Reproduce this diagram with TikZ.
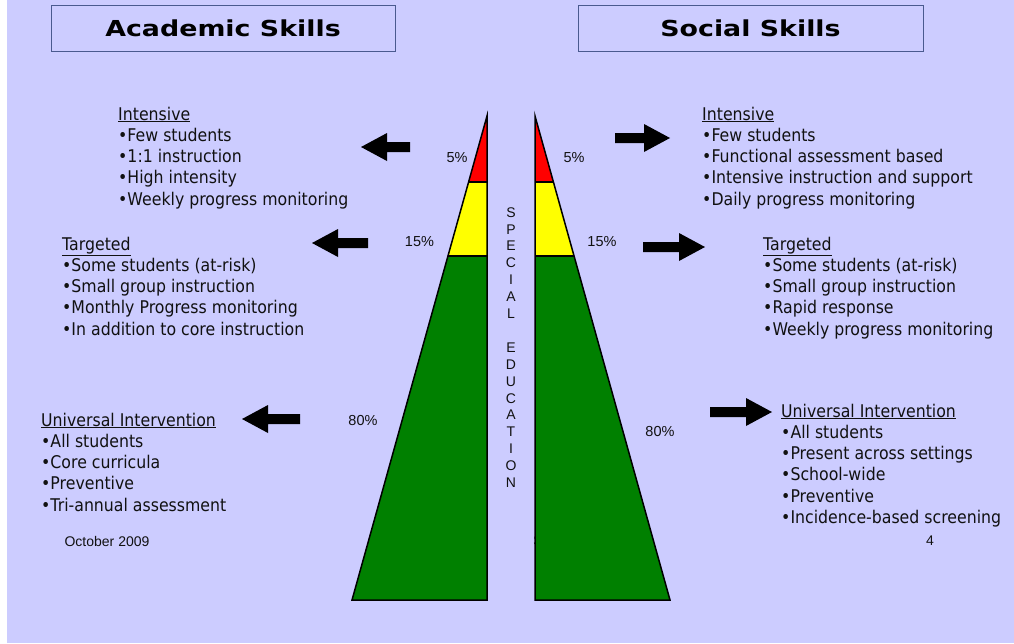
\documentclass[tikz,border=0pt]{standalone}
\usepackage{fontspec}
\newfontfamily\tah{DejaVu Sans}[FakeStretch=0.9]
\newfontfamily\tahtitle{DejaVu Sans}[FakeStretch=1.22]
\newfontfamily\ari{Liberation Sans}
\definecolor{bg}{HTML}{CCCCFF}
\definecolor{boxline}{HTML}{4A5A8F}
\definecolor{pred}{HTML}{FF0000}
\definecolor{pyel}{HTML}{FFFF00}
\definecolor{pgrn}{HTML}{008000}
\definecolor{txt}{HTML}{111111}
\tikzset{
  x=1pt,y=-1pt,
  titlebox/.style={draw=boxline,line width=0.9pt,fill=bg,inner sep=0pt,font=\tahtitle\bfseries\fontsize{22}{26}\selectfont,text=black},
  body/.style={font=\tah\fontsize{17.5}{21.3}\selectfont,align=left,inner sep=0pt,anchor=north west,text=txt},
  pct/.style={font=\ari\fontsize{14.5}{17}\selectfont,inner sep=0pt,text=txt},
  foot/.style={font=\ari\fontsize{14}{17}\selectfont,inner sep=0pt,text=txt},
  band/.style={draw=black,line width=1.5pt,line join=miter},
  blockarrow/.style={fill=black}
}
\newcommand\larrow[4]{% tip x, tip y, length, name
  \fill[blockarrow] (#1,#2) coordinate (#4) -- ++(26,14) -- ++(0,-9) -- ++(#3-26,0) -- ++(0,-10) -- ++(-#3+26,0) -- ++(0,-9) -- cycle;}
\newcommand\rarrow[4]{% tip x, tip y, length, name
  \fill[blockarrow] (#1,#2) coordinate (#4) -- ++(-26,14) -- ++(0,-9) -- ++(-#3+26,0) -- ++(0,-10) -- ++(#3-26,0) -- ++(0,-9) -- cycle;}
\begin{document}
\begin{tikzpicture}
\useasboundingbox (0,0) rectangle (1014,643);
\fill[white] (0,0) rectangle (1014,643);
\fill[bg] (7,0) rectangle (1014,643);

% title boxes
\node[titlebox,minimum width=344,minimum height=46] (acad) at (223,28) {Academic Skills};
\node[titlebox,minimum width=345,minimum height=46] (soc) at (750.5,28) {Social Skills};

% hidden footer glyph behind the right pyramid
\node[foot] (hid) at (538,541) {S};

% left pyramid
\fill[pred] (487,116) -- (468.6,182) -- (487,182) -- cycle;
\fill[pyel] (468.6,182) -- (447.9,256) -- (487,256) -- (487,182) -- cycle;
\fill[pgrn] (447.9,256) -- (352,600) -- (487,600) -- (487,256) -- cycle;
\draw[band] (487,116) -- (352,600) -- (487,600) -- cycle;
\draw[band] (468.6,182) -- (487,182) (447.9,256) -- (487,256);

% right pyramid
\fill[pred] (535,116) -- (553.4,182) -- (535,182) -- cycle;
\fill[pyel] (553.4,182) -- (574.1,256) -- (535,256) -- (535,182) -- cycle;
\fill[pgrn] (574.1,256) -- (670,600) -- (535,600) -- (535,256) -- cycle;
\draw[band] (535,116) -- (670,600) -- (535,600) -- cycle;
\draw[band] (553.4,182) -- (535,182) (574.1,256) -- (535,256);

% special education
\node[font=\ari\fontsize{14}{16.9}\selectfont,align=center,inner sep=0pt,text=txt] (sped) at (511,347.5)
  {S\\P\\E\\C\\I\\A\\L\\[16.9pt]E\\D\\U\\C\\A\\T\\I\\O\\N};

% percentages
\node[pct] (p5l) at (457,158) {5\%};
\node[pct] (p15l) at (419.5,242) {15\%};
\node[pct] (p80l) at (363,421) {80\%};
\node[pct] (p5r) at (574,158) {5\%};
\node[pct] (p15r) at (602,242) {15\%};
\node[pct] (p80r) at (660,432) {80\%};

% arrows
\larrow{361}{147}{49}{a1}
\larrow{312}{243}{56}{a2}
\larrow{242}{419}{58}{a3}
\rarrow{670}{138}{55}{a4}
\rarrow{705}{247}{62}{a5}
\rarrow{772}{412}{62}{a6}

% left text
\node[body] (li) at (118,106.5) {\underline{Intensive}\\•Few students\\•1:1 instruction\\•High intensity\\•Weekly progress monitoring};
\node[body] (lt) at (62,236.5) {\underline{Targeted}\\•Some students (at-risk)\\•Small group instruction\\•Monthly Progress monitoring\\•In addition to core instruction};
\node[body] (lu) at (41,412.5) {\underline{Universal Intervention}\\•All students\\•Core curricula\\•Preventive\\•Tri-annual assessment};

% right text
\node[body] (ri) at (702,106.5) {\underline{Intensive}\\•Few students\\•Functional assessment based\\•Intensive instruction and support\\•Daily progress monitoring};
\node[body] (rt) at (763,236.5) {\underline{Targeted}\\•Some students (at-risk)\\•Small group instruction\\•Rapid response\\•Weekly progress monitoring};
\node[body] (ru) at (781,403.5) {\underline{Universal Intervention}\\•All students\\•Present across settings\\•School-wide\\•Preventive\\•Incidence-based screening};

% footer
\node[foot] (date) at (107,541) {October 2009};
\node[foot] (pg) at (930,541) {4};
\end{tikzpicture}
\end{document}
